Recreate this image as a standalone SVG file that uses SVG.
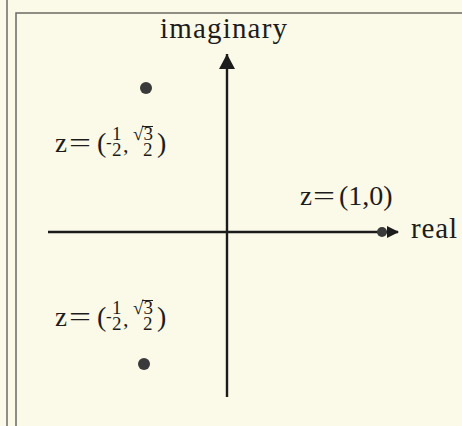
<svg xmlns="http://www.w3.org/2000/svg" width="462" height="426" viewBox="0 0 462 426">
  <defs>
    <style>
      .t { font-family: "Liberation Serif", "Times New Roman", serif; fill: #1c1c1c; }
      .frac { font-size: 19px; }
      .ax { stroke: #1c1c1c; stroke-width: 2.4; fill: none; }
      .frame { stroke: #6a6a66; stroke-width: 1.5; fill: none; }
      .dot { fill: #3a3a3a; }
      .bar { stroke: #1c1c1c; stroke-width: 1; }
    </style>
    <marker id="arr" viewBox="0 0 12 12" refX="11" refY="6" markerWidth="12" markerHeight="12" markerUnits="userSpaceOnUse" orient="auto">
      <path d="M0,0 L12,6 L0,12 Z" fill="#1c1c1c"/>
    </marker>
    <marker id="arrV" viewBox="0 0 16 16" refX="15" refY="8" markerWidth="16" markerHeight="16" markerUnits="userSpaceOnUse" orient="auto">
      <path d="M0,0 L15,8 L0,16 Z" fill="#1c1c1c"/>
    </marker>
  </defs>
  <rect x="0" y="0" width="462" height="426" fill="#fbf9e7"/>
  <g id="frame">
    <line class="frame" x1="7" y1="0" x2="7" y2="426"/>
    <path class="frame" d="M16,426 L16,13 L462,13"/>
  </g>
  <g id="connectors">
    <line class="ax" x1="227" y1="397" x2="227" y2="54" marker-end="url(#arrV)"/>
    <line class="ax" x1="48" y1="232" x2="398" y2="232" marker-end="url(#arr)"/>
  </g>
  <g id="axis-imaginary">
    <text class="t" x="160" y="38" font-size="29" textLength="127" lengthAdjust="spacing">imaginary</text>
  </g>
  <g id="axis-real">
    <text class="t" x="411" y="238" font-size="29" textLength="46" lengthAdjust="spacing">real</text>
  </g>
  <g id="point-1-0">
    <circle class="dot" cx="382" cy="232" r="5"/>
    <text class="t" x="300" y="205" font-size="27">z</text>
    <text class="t" x="313" y="205" font-size="27" textLength="22" lengthAdjust="spacingAndGlyphs">=</text>
    <text class="t" x="339" y="205" font-size="28">(1,0)</text>
  </g>
  <g id="point-upper">
    <circle class="dot" cx="146" cy="88" r="6"/>
    <text class="t" x="55" y="152" font-size="27">z</text>
    <text class="t" x="69" y="152" font-size="27" textLength="22" lengthAdjust="spacingAndGlyphs">=</text>
    <text class="t" x="97" y="152" font-size="28">(</text>
    <text class="t" x="106" y="148" font-size="17">-</text>
    <text class="t frac" x="112" y="140">1</text>
    <text class="t frac" x="112" y="156">2</text>
    <text class="t" x="123" y="152" font-size="22">,</text>
    <text class="t frac" x="133" y="140">√3</text>
    <line class="bar" x1="142" y1="126.5" x2="153" y2="126.5"/>
    <text class="t frac" x="143" y="156">2</text>
    <text class="t" x="157" y="152" font-size="28">)</text>
  </g>
  <g id="point-lower">
    <circle class="dot" cx="144" cy="364" r="6"/>
    <text class="t" x="55" y="326" font-size="27">z</text>
    <text class="t" x="69" y="326" font-size="27" textLength="22" lengthAdjust="spacingAndGlyphs">=</text>
    <text class="t" x="97" y="326" font-size="28">(</text>
    <text class="t" x="106" y="322" font-size="17">-</text>
    <text class="t frac" x="112" y="314">1</text>
    <text class="t frac" x="112" y="330">2</text>
    <text class="t" x="123" y="326" font-size="22">,</text>
    <text class="t frac" x="133" y="314">√3</text>
    <line class="bar" x1="142" y1="300.5" x2="153" y2="300.5"/>
    <text class="t frac" x="143" y="330">2</text>
    <text class="t" x="157" y="326" font-size="28">)</text>
  </g>
</svg>
